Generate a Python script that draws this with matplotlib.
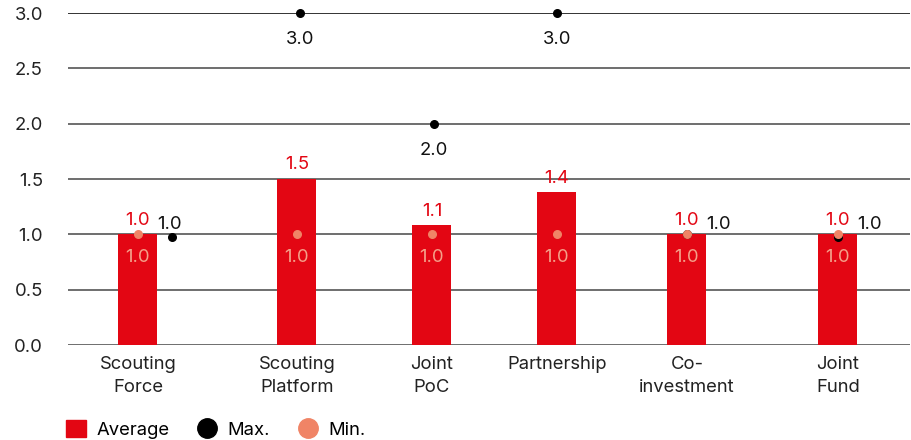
import matplotlib.pyplot as plt
import numpy as np

plt.rcParams['font.family'] = ['Inter', 'DejaVu Sans']

categories = ["Scouting\nForce", "Scouting\nPlatform", "Joint\nPoC",
              "Partnership", "Co-\ninvestment", "Joint\nFund"]
average = [1.0, 1.5, 1.08, 1.38, 1.0, 1.0]
avg_labels = ["1.0", "1.5", "1.1", "1.4", "1.0", "1.0"]
max_vals = [1.0, 3.0, 2.0, 3.0, 1.0, 1.0]
min_vals = [1.0, 1.0, 1.0, 1.0, 1.0, 1.0]

# layout: category centres in pixel-like units, plus the small dot offsets seen
xpos = np.array([138, 297, 432, 557, 687, 838])
max_dx = np.array([34, 3, 2, 0, 0, 0])
max_dy = np.array([-0.025, 0, 0, 0, 0, -0.025])

RED = '#e30613'
ORANGE = '#f08466'
MINTXT = '#f4a089'

fig = plt.figure(figsize=(9.12, 4.40), dpi=100)
ax = fig.add_axes([68 / 912, 95 / 440, 842 / 912, 332 / 440])
ax.set_xlim(68, 910)
ax.set_ylim(0, 3)

for y in np.arange(0, 3.01, 0.5):
    ax.axhline(y, color='#111111' if y == 3 else '#555555', lw=1.2, zorder=1)

ax.bar(xpos, average, width=39, color=RED, zorder=2)
ax.scatter(xpos + max_dx, np.array(max_vals) + max_dy, s=30, color='black',
           zorder=3, clip_on=False)
ax.scatter(xpos, min_vals, s=30, color=ORANGE, zorder=4, clip_on=False)

fs = 13.3
for i, x in enumerate(xpos):
    ax.annotate(avg_labels[i], (x, average[i]), xytext=(0, 4), textcoords='offset points',
                ha='center', va='bottom', color=RED, fontsize=fs, zorder=5)
    ax.annotate(f"{min_vals[i]:.1f}", (x, min_vals[i]), xytext=(0, -17), textcoords='offset points',
                ha='center', va='center', color=MINTXT, fontsize=fs, zorder=5)
    if max_vals[i] > min_vals[i] + 0.2:
        ax.annotate(f"{max_vals[i]:.1f}", (x + max_dx[i], max_vals[i]), xytext=(0, -19),
                    textcoords='offset points', ha='center', va='center',
                    color='#111111', fontsize=fs, zorder=5)
    else:
        ax.annotate(f"{max_vals[i]:.1f}", (x, max_vals[i]), xytext=(23, 7),
                    textcoords='offset points', ha='center', va='center',
                    color='#111111', fontsize=fs, zorder=5)

ax.set_xticks(xpos)
ax.set_xticklabels(categories, fontsize=fs, color='#222222', linespacing=1.45)
ax.set_yticks(np.arange(0, 3.01, 0.5))
ax.set_yticklabels([f"{v:.1f}" for v in np.arange(0, 3.01, 0.5)], fontsize=fs, color='#222222')
ax.tick_params(length=0)
ax.tick_params(axis='x', pad=8)
ax.tick_params(axis='y', pad=18)
for s in ax.spines.values():
    s.set_visible(False)

# legend
h_avg = plt.Rectangle((0, 0), 1, 1, color=RED)
h_max = plt.Line2D([], [], marker='o', ls='', color='black', markersize=14)
h_min = plt.Line2D([], [], marker='o', ls='', color=ORANGE, markersize=14)
fig.legend([h_avg, h_max, h_min], ["Average", "Max.", "Min."], loc='lower left',
           bbox_to_anchor=(66 / 912, 1 / 440), ncol=3, frameon=False, fontsize=fs,
           borderpad=0, borderaxespad=0,
           handlelength=1.1, handleheight=1.0, handletextpad=0.55, columnspacing=1.5)

fig.savefig('out.png', dpi=100)
